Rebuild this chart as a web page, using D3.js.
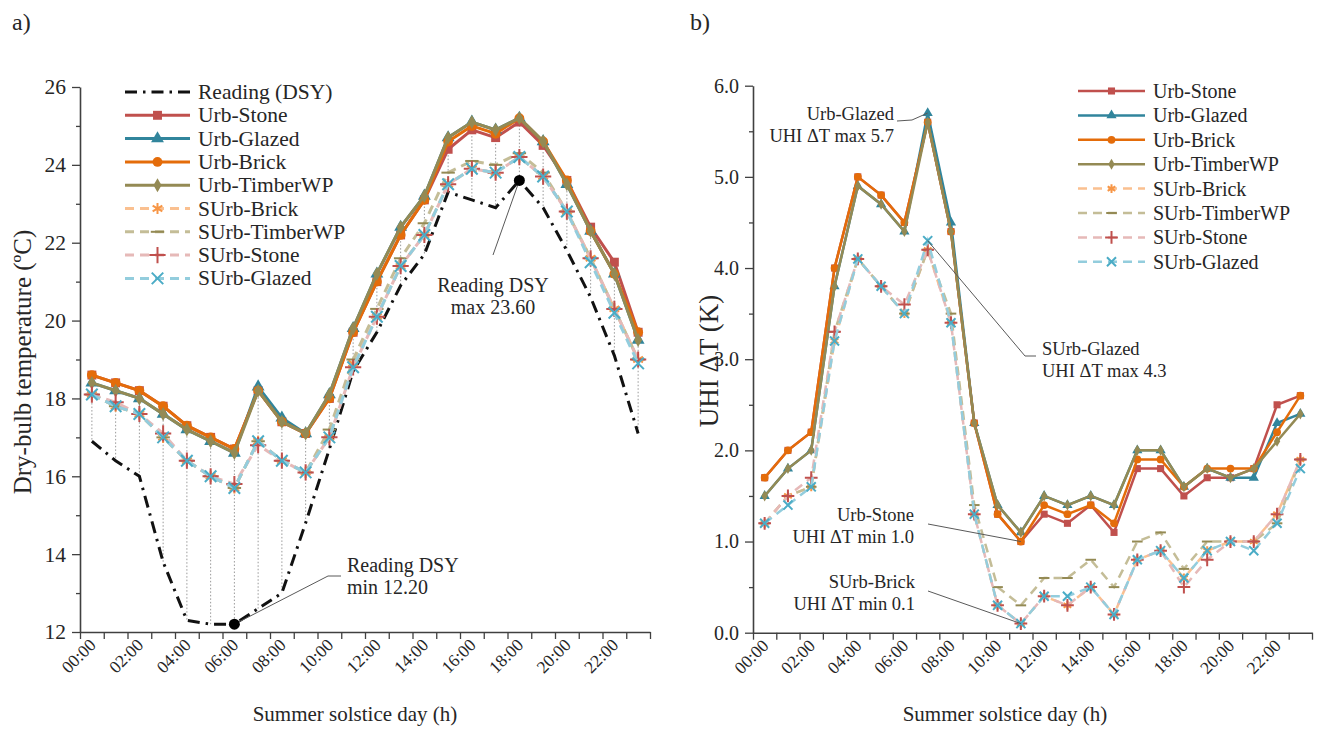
<!DOCTYPE html>
<html lang="en">
<head>
<meta charset="UTF-8">
<title>Summer solstice temperatures</title>
<style>
  body { margin: 0; background: #fff; }
  svg text { font-family: "Liberation Serif", "Times New Roman", serif; fill: #262626; }
</style>
</head>
<body>
<div id="graph"></div>
<script src="https://cdnjs.cloudflare.com/ajax/libs/d3/7.8.5/d3.min.js"></script>
<script>
// ---- data ----
const hours = ["00:00","01:00","02:00","03:00","04:00","05:00","06:00","07:00","08:00","09:00","10:00","11:00",
               "12:00","13:00","14:00","15:00","16:00","17:00","18:00","19:00","20:00","21:00","22:00","23:00"];
const seriesNames = ["Urb-Stone","Urb-Glazed","Urb-Brick","Urb-TimberWP","SUrb-Brick","SUrb-TimberWP","SUrb-Stone","SUrb-Glazed"];

// a) dry-bulb temperature (°C)
const readingDSY   = [16.9,16.4,16.0,13.8,12.3,12.2,12.2,12.6,13.0,14.8,16.7,18.7,19.7,20.9,21.7,23.3,23.1,22.9,23.6,22.9,21.8,20.6,19.1,17.1];
const tUrbStone    = [18.6,18.4,18.2,17.8,17.3,17.0,16.7,18.2,17.4,17.1,18.0,19.7,21.0,22.2,23.1,24.4,24.9,24.7,25.1,24.5,23.6,22.4,21.5,19.7];
const tUrbGlazed   = [18.4,18.2,18.0,17.6,17.2,16.9,16.6,18.3,17.5,17.1,18.1,19.8,21.2,22.4,23.2,24.7,25.1,24.9,25.2,24.6,23.5,22.3,21.2,19.5];
const tUrbBrick    = [18.6,18.4,18.2,17.8,17.3,17.0,16.7,18.2,17.4,17.1,18.0,19.7,21.0,22.2,23.1,24.6,25.0,24.8,25.2,24.6,23.6,22.3,21.2,19.7];
const tUrbTimber   = [18.4,18.2,18.0,17.6,17.2,16.9,16.6,18.2,17.4,17.1,18.1,19.8,21.2,22.4,23.2,24.7,25.1,24.9,25.2,24.6,23.5,22.3,21.2,19.5];
const tSUrbBrick   = [18.1,17.8,17.6,17.0,16.4,16.0,15.7,16.9,16.4,16.1,17.0,18.9,20.1,21.4,22.2,23.5,23.9,23.8,24.2,23.7,22.8,21.6,20.3,19.0];
const tSUrbTimber  = [18.1,17.8,17.6,17.0,16.4,16.0,15.7,16.9,16.4,16.1,17.2,19.0,20.3,21.6,22.5,23.8,24.1,24.0,24.3,23.8,22.8,21.6,20.3,19.0];
const tSUrbStone   = [18.1,17.9,17.6,17.1,16.4,16.0,15.8,16.8,16.4,16.1,17.0,18.8,20.1,21.4,22.2,23.5,23.9,23.8,24.2,23.7,22.8,21.6,20.3,19.0];
const tSUrbGlazed  = [18.1,17.8,17.6,17.0,16.4,16.0,15.7,16.9,16.4,16.1,17.0,18.8,20.1,21.4,22.2,23.5,23.9,23.8,24.2,23.7,22.8,21.5,20.2,18.9];

// b) UHI delta T (K)
const dUrbStone    = [1.7,2.0,2.2,4.0,5.0,4.8,4.5,5.6,4.4,2.3,1.3,1.0,1.3,1.2,1.4,1.1,1.8,1.8,1.5,1.7,1.7,1.8,2.5,2.6];
const dUrbGlazed   = [1.5,1.8,2.0,3.8,4.9,4.7,4.4,5.7,4.5,2.3,1.4,1.1,1.5,1.4,1.5,1.4,2.0,2.0,1.6,1.8,1.7,1.7,2.3,2.4];
const dUrbBrick    = [1.7,2.0,2.2,4.0,5.0,4.8,4.5,5.6,4.4,2.3,1.3,1.0,1.4,1.3,1.4,1.2,1.9,1.9,1.6,1.8,1.8,1.8,2.2,2.6];
const dUrbTimber   = [1.5,1.8,2.0,3.8,4.9,4.7,4.4,5.6,4.4,2.3,1.4,1.1,1.5,1.4,1.5,1.4,2.0,2.0,1.6,1.8,1.7,1.8,2.1,2.4];
const dSUrbBrick   = [1.2,1.5,1.6,3.2,4.1,3.8,3.5,4.2,3.4,1.3,0.3,0.1,0.4,0.3,0.5,0.2,0.8,0.9,0.6,0.9,1.0,1.0,1.3,1.9];
const dSUrbTimber  = [1.2,1.5,1.6,3.3,4.1,3.8,3.5,4.2,3.5,1.4,0.5,0.3,0.6,0.6,0.8,0.5,1.0,1.1,0.7,1.0,1.0,1.0,1.2,1.9];
const dSUrbStone   = [1.2,1.5,1.7,3.3,4.1,3.8,3.6,4.2,3.4,1.3,0.3,0.1,0.4,0.3,0.5,0.2,0.8,0.9,0.5,0.8,1.0,1.0,1.3,1.9];
const dSUrbGlazed  = [1.2,1.4,1.6,3.2,4.1,3.8,3.5,4.3,3.4,1.3,0.3,0.1,0.4,0.4,0.5,0.2,0.8,0.9,0.6,0.9,1.0,0.9,1.2,1.8];

const leftTicks  = [12,14,16,18,20,22,24,26];
const rightTicks = [0,1,2,3,4,5,6];

// ---- styles ----
// small horizontal bar used as SUrb-TimberWP marker
const symbolBar = { draw(ctx, size) { const w = Math.sqrt(size) * 0.75; ctx.moveTo(-w, 0); ctx.lineTo(w, 0); } };

const style = {
  "Urb-Stone":     {line: "#c0504d", mark: "#c0504d", dash: null, sym: d3.symbolSquare,   fill: true,  k: 1.0},
  "Urb-Glazed":    {line: "#31859c", mark: "#31859c", dash: null, sym: d3.symbolTriangle, fill: true,  k: 0.9},
  "Urb-Brick":     {line: "#e46c0a", mark: "#e46c0a", dash: null, sym: d3.symbolCircle,   fill: true,  k: 0.95},
  "Urb-TimberWP":  {line: "#948a54", mark: "#948a54", dash: null, sym: d3.symbolDiamond,  fill: true,  k: 0.7},
  "SUrb-Brick":    {line: "#fac090", mark: "#f79646", dash: "9,6", sym: d3.symbolAsterisk, fill: false, k: 1.1},
  "SUrb-TimberWP": {line: "#c4bd97", mark: "#948a54", dash: "9,6", sym: symbolBar,        fill: false, k: 1.0},
  "SUrb-Stone":    {line: "#e6b9b8", mark: "#c0504d", dash: "9,6", sym: d3.symbolPlus,     fill: false, k: 1.1},
  "SUrb-Glazed":   {line: "#93cddd", mark: "#4bacc6", dash: "9,6", sym: d3.symbolTimes,    fill: false, k: 1.1}
};

const svg = d3.select("#graph").append("svg")
  .attr("width", 1318).attr("height", 729);

function drawPanel(p) {
  const g = svg.append("g");
  const x = d3.scaleBand().domain(hours).range([p.x0, p.x1]).padding(0);
  const xEdge = d3.scaleLinear().domain([0, 24]).range([p.x0, p.x1]);
  const y = d3.scaleLinear().domain(p.yDomain).range([p.yBot, p.yTop]);
  const cx = h => x(h) + x.bandwidth() / 2;

  // minor y ticks
  g.append("g").attr("transform", `translate(${p.x0},0)`)
    .call(d3.axisLeft(y).tickValues(p.minor).tickSize(4).tickFormat(""))
    .call(a => a.select(".domain").remove())
    .selectAll("line").attr("stroke", "#404040").attr("stroke-width", 1.3);
  // major y ticks + axis line
  const ya = g.append("g").attr("transform", `translate(${p.x0},0)`)
    .call(d3.axisLeft(y).tickValues(p.yTicks).tickSize(8).tickSizeOuter(0).tickPadding(6).tickFormat(p.fmt));
  ya.select(".domain").attr("stroke", "#404040").attr("stroke-width", 1.6);
  ya.selectAll("line").attr("stroke", "#404040").attr("stroke-width", 1.3);
  ya.selectAll("text").attr("font-size", p.tickFont).attr("font-family", "Liberation Serif").attr("fill", "#262626");

  // x axis: tick marks on band edges, labels every 2 h
  const xa = g.append("g").attr("transform", `translate(0,${p.yBot})`)
    .call(d3.axisBottom(xEdge).tickValues(d3.range(25)).tickSize(7).tickSizeOuter(0).tickFormat(""));
  xa.select(".domain").attr("stroke", "#404040").attr("stroke-width", 1.6);
  xa.selectAll("line").attr("stroke", "#404040").attr("stroke-width", 1.3);
  g.selectAll(".xlab").data(hours.filter((h, i) => i % 2 === 0)).join("text")
    .attr("transform", h => `translate(${cx(h) + 5},${p.yBot + 14}) rotate(-45)`)
    .attr("text-anchor", "end").attr("font-size", 17.5).text(h => h);

  // axis titles
  g.append("text").attr("x", p.xTitleX).attr("y", 721).attr("text-anchor", "middle")
    .attr("font-size", 21).text("Summer solstice day (h)");
  g.append("text").attr("transform", `translate(${p.yTitleX},${p.yTitleY}) rotate(-90)`)
    .attr("text-anchor", "middle").attr("font-size", p.yTitleFont).text(p.yTitle);
  g.append("text").attr("x", p.panelX).attr("y", 30).attr("font-size", 24).text(p.panel);

  // dotted drop lines between highest series and the reading
  if (p.reading) {
    g.selectAll(".drop").data(hours).join("line")
      .attr("x1", cx).attr("x2", cx)
      .attr("y1", (h, i) => y(d3.max(p.series, s => s.values[i])))
      .attr("y2", (h, i) => y(p.reading[i]))
      .attr("stroke", "#7f7f7f").attr("stroke-width", 0.8).attr("stroke-dasharray", "1.5,2");
    g.append("path").datum(p.reading)
      .attr("d", d3.line().x((v, i) => cx(hours[i])).y(v => y(v)))
      .attr("fill", "none").attr("stroke", "#111").attr("stroke-width", 3)
      .attr("stroke-dasharray", "12,6,2.5,6");
  }

  const line = d3.line().x((v, i) => cx(hours[i])).y(v => y(v));
  p.series.forEach(s => {
    const st = style[s.name];
    g.append("path").datum(s.values).attr("d", line)
      .attr("fill", "none").attr("stroke", st.line).attr("stroke-width", p.lw)
      .attr("stroke-dasharray", st.dash);
    g.selectAll(null).data(s.values).join("path")
      .attr("transform", (v, i) => `translate(${cx(hours[i])},${y(v)})`)
      .attr("d", d3.symbol(st.sym, p.ms * st.k))
      .attr("fill", st.fill ? st.mark : "none")
      .attr("stroke", st.mark).attr("stroke-width", st.fill ? 0 : 2);
  });

  // annotations
  p.notes.forEach(n => {
    const pt = [cx(hours[n.i]), y(n.v)];
    g.append("path").attr("d", d3.line()([pt].concat(n.path)))
      .attr("fill", "none").attr("stroke", "#595959").attr("stroke-width", 1);
    if (n.dot) g.append("circle").attr("cx", pt[0]).attr("cy", pt[1]).attr("r", 5.5).attr("fill", "#000");
    n.lines.forEach((t, k) => g.append("text").attr("x", n.tx).attr("y", n.ty + k * 22)
      .attr("text-anchor", n.anchor).attr("font-size", p.noteFont).text(t));
  });

  // legend
  const lg = g.append("g");
  p.legend.forEach((s, k) => {
    const yy = p.lgY + k * p.lgStep;
    const row = lg.append("g");
    if (s === "Reading (DSY)") {
      row.append("line").attr("x1", p.lgX0).attr("x2", p.lgX1).attr("y1", yy).attr("y2", yy)
        .attr("stroke", "#111").attr("stroke-width", 3).attr("stroke-dasharray", "12,6,2.5,6");
    } else {
      const st = style[s];
      row.append("line").attr("x1", p.lgX0).attr("x2", p.lgX1).attr("y1", yy).attr("y2", yy)
        .attr("stroke", st.line).attr("stroke-width", p.lw).attr("stroke-dasharray", st.dash);
      row.append("path").attr("transform", `translate(${(p.lgX0 + p.lgX1) / 2},${yy})`)
        .attr("d", d3.symbol(st.sym, p.ms * st.k))
        .attr("fill", st.fill ? st.mark : "none")
        .attr("stroke", st.mark).attr("stroke-width", st.fill ? 0 : 2);
    }
    row.append("text").attr("x", p.lgX1 + 8).attr("y", yy + 7).attr("font-size", p.lgFont).text(s);
  });
}

drawPanel({
  panel: "a)", panelX: 12,
  x0: 80, x1: 650, yTop: 87, yBot: 632, yDomain: [12, 26],
  yTicks: leftTicks, minor: [13,15,17,19,21,23,25], fmt: d3.format("d"), tickFont: 21.5,
  yTitle: "Dry-bulb temperature (ºC)", yTitleX: 31, yTitleY: 362, yTitleFont: 25, xTitleX: 355,
  lw: 3, ms: 80, lgFont: 21.5, noteFont: 20,
  reading: readingDSY,
  series: [
    {name: "Urb-Stone", values: tUrbStone}, {name: "Urb-Glazed", values: tUrbGlazed},
    {name: "Urb-Brick", values: tUrbBrick}, {name: "Urb-TimberWP", values: tUrbTimber},
    {name: "SUrb-Brick", values: tSUrbBrick}, {name: "SUrb-TimberWP", values: tSUrbTimber},
    {name: "SUrb-Stone", values: tSUrbStone}, {name: "SUrb-Glazed", values: tSUrbGlazed}
  ],
  notes: [
    {i: 18, v: 23.6, dot: true, path: [[493, 255]], tx: 493, ty: 292, anchor: "middle", lines: ["Reading DSY", "max 23.60"]},
    {i: 6, v: 12.2, dot: true, path: [[328, 576], [341, 576]], tx: 347, ty: 572, anchor: "start", lines: ["Reading DSY", "min 12.20"]}
  ],
  legend: ["Reading (DSY)"].concat(seriesNames), lgX0: 125, lgX1: 190, lgY: 92, lgStep: 23.3
});

drawPanel({
  panel: "b)", panelX: 690,
  x0: 753, x1: 1312, yTop: 85.7, yBot: 632.7, yDomain: [0, 6],
  yTicks: rightTicks, minor: [0.5,1.5,2.5,3.5,4.5,5.5], fmt: d3.format(".1f"), tickFont: 20,
  yTitle: "UHI ΔT (K)", yTitleX: 718, yTitleY: 361, yTitleFont: 27, xTitleX: 1005,
  lw: 2.5, ms: 50, lgFont: 20, noteFont: 18.5,
  reading: null,
  series: [
    {name: "Urb-Stone", values: dUrbStone}, {name: "Urb-Glazed", values: dUrbGlazed},
    {name: "Urb-Brick", values: dUrbBrick}, {name: "Urb-TimberWP", values: dUrbTimber},
    {name: "SUrb-Brick", values: dSUrbBrick}, {name: "SUrb-TimberWP", values: dSUrbTimber},
    {name: "SUrb-Stone", values: dSUrbStone}, {name: "SUrb-Glazed", values: dSUrbGlazed}
  ],
  notes: [
    {i: 7, v: 5.7, path: [[912, 120], [897, 121]], tx: 894, ty: 120, anchor: "end", lines: ["Urb-Glazed", "UHI ΔT max 5.7"]},
    {i: 7, v: 4.3, path: [[1025, 356], [1036, 356]], tx: 1042, ty: 355, anchor: "start", lines: ["SUrb-Glazed", "UHI ΔT max 4.3"]},
    {i: 11, v: 1.0, path: [[928, 524]], tx: 914, ty: 521, anchor: "end", lines: ["Urb-Stone", "UHI ΔT min 1.0"]},
    {i: 11, v: 0.1, path: [[928, 591]], tx: 915, ty: 588, anchor: "end", lines: ["SUrb-Brick", "UHI ΔT min 0.1"]}
  ],
  legend: seriesNames, lgX0: 1078, lgX1: 1145, lgY: 91, lgStep: 24.4
});
</script>
</body>
</html>
